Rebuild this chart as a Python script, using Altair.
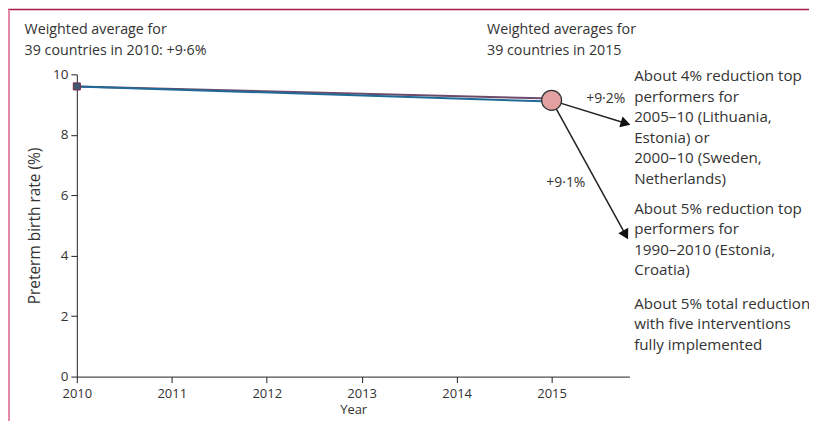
import altair as alt
import pandas as pd

# Data
years = [2010, 2015]
series_a = [9.6, 9.2]   # purple
series_b = [9.6, 9.1]   # blue
x_ticks = [2010, 2011, 2012, 2013, 2014, 2015]
circle_year = [2015]
circle_val = [9.14]
arrow_end_year = [2015.78, 2015.78]
arrow_end_val = [8.38, 4.69]
arrow_angles = [17, 61]
pct_labels = ["+9·2%", "+9·1%"]
pct_label_year = [2015.57, 2015.15]
pct_label_val = [9.2, 6.4]

note_texts = [
    "Weighted average for\n39 countries in 2010: +9·6%",
    "Weighted averages for\n39 countries in 2015",
    "About 4% reduction top\nperformers for\n2005–10 (Lithuania,\nEstonia) or\n2000–10 (Sweden,\nNetherlands)",
    "About 5% reduction top\nperformers for\n1990–2010 (Estonia,\nCroatia)",
    "About 5% total reduction\nwith five interventions\nfully implemented",
]
note_year = [2009.45, 2014.32, 2015.87, 2015.87, 2015.87]
note_val = [11.32, 11.32, 9.77, 5.38, 2.24]
note_size = [14.3, 14.3, 15.2, 15.2, 15.2]

FONT = "Open Sans"
TXT = "#333333"
XDOM = [2010, 2015.82]

lines_df = pd.DataFrame({
    "year": years * 2,
    "val": series_a + series_b,
    "series": ["a"] * 2 + ["b"] * 2,
})

xscale = alt.Scale(domain=XDOM, nice=False, zero=False)
yscale = alt.Scale(domain=[0, 10], nice=False)

base_x = alt.X("year:Q", scale=xscale,
               axis=alt.Axis(values=x_ticks, format="d", title="Year", grid=False,
                             labelFont=FONT, titleFont=FONT, labelFontSize=13, titleFontSize=13,
                             labelColor=TXT, titleColor=TXT, titleFontWeight="normal",
                             labelFlush=False,
                             domainColor="#222", tickColor="#222", tickSize=6,
                             labelPadding=5, titlePadding=3))
base_y = alt.Y("val:Q", scale=yscale,
               axis=alt.Axis(values=[0, 2, 4, 6, 8, 10], title="Preterm birth rate (%)", grid=False,
                             labelFont=FONT, titleFont=FONT, labelFontSize=13.5, titleFontSize=15.5,
                             labelColor=TXT, titleColor=TXT, titleFontWeight="normal",
                             labelFlush=False,
                             domainColor="#222", tickColor="#222", tickSize=6,
                             labelPadding=3, titlePadding=10))

lines = alt.Chart(lines_df).mark_line(strokeWidth=2).encode(
    x=base_x, y=base_y,
    color=alt.Color("series:N", scale=alt.Scale(domain=["a", "b"], range=["#6e4a6a", "#1f6a96"]), legend=None),
)

start_df = pd.DataFrame({"year": [years[0]], "val": [series_a[0]]})
start = alt.Chart(start_df).mark_point(shape="square", filled=True, size=50, color="#3d5a72", opacity=1,
                                       stroke="#7a2a4a", strokeWidth=1).encode(
    x=alt.X("year:Q", scale=xscale), y=alt.Y("val:Q", scale=yscale))

arrow_df = pd.DataFrame({
    "year": [circle_year[0]] * 2 + arrow_end_year,
    "val": [circle_val[0]] * 2 + arrow_end_val,
    "arrow": [0, 1, 0, 1],
})
arrows = alt.Chart(arrow_df).mark_line(color="#222", strokeWidth=1.5, clip=False).encode(
    x=alt.X("year:Q", scale=xscale), y=alt.Y("val:Q", scale=yscale), detail="arrow:N")

heads_df = pd.DataFrame({"year": arrow_end_year, "val": arrow_end_val, "ang": arrow_angles})
heads = alt.Chart(heads_df).mark_point(shape="triangle-right", filled=True, size=130, color="#111",
                                       opacity=1, clip=False).encode(
    x=alt.X("year:Q", scale=xscale), y=alt.Y("val:Q", scale=yscale),
    angle=alt.Angle("ang:Q", scale=None))

circ_df = pd.DataFrame({"year": circle_year, "val": circle_val})
circ = alt.Chart(circ_df).mark_point(shape="circle", filled=True, size=400, fill="#e2a0a0",
                                     stroke="#333", strokeWidth=1.3, opacity=1).encode(
    x=alt.X("year:Q", scale=xscale), y=alt.Y("val:Q", scale=yscale))

pct_df = pd.DataFrame({"year": pct_label_year, "val": pct_label_val, "t": pct_labels})
pct = alt.Chart(pct_df).mark_text(font=FONT, fontSize=14, color=TXT, align="center", baseline="middle",
                                  clip=False).encode(
    x=alt.X("year:Q", scale=xscale), y=alt.Y("val:Q", scale=yscale), text="t:N")

notes_df = pd.DataFrame({"year": note_year, "val": note_val, "t": note_texts, "fs": note_size})
notes = alt.Chart(notes_df).mark_text(font=FONT, color=TXT, align="left",
                                      baseline="alphabetic", lineBreak="\n", lineHeight=20.5,
                                      clip=False).encode(
    x=alt.X("year:Q", scale=xscale), y=alt.Y("val:Q", scale=yscale), text="t:N",
    size=alt.Size("fs:Q", scale=None))

# decorative frame (top and left border)
frame_top = alt.Chart(pd.DataFrame({"k": [0]})).mark_rule(color="#a31a45", strokeWidth=1.5, clip=False).encode(
    x=alt.value(-69), x2=alt.value(745), y=alt.value(-65))
frame_left = alt.Chart(pd.DataFrame({"k": [0]})).mark_rule(color="#e589a6", strokeWidth=2, clip=False).encode(
    x=alt.value(-68), y=alt.value(-65), y2=alt.value(356))

chart = alt.layer(frame_top, frame_left, lines, start, arrows, heads, circ, pct, notes).properties(
    width=554, height=303,
    autosize=alt.AutoSizeParams(type="none"),
    padding={"left": 69, "top": 66, "right": 180, "bottom": 44},
).configure_view(stroke=None)

chart.save("out.html", embed_options={"renderer": "svg", "actions": False})
